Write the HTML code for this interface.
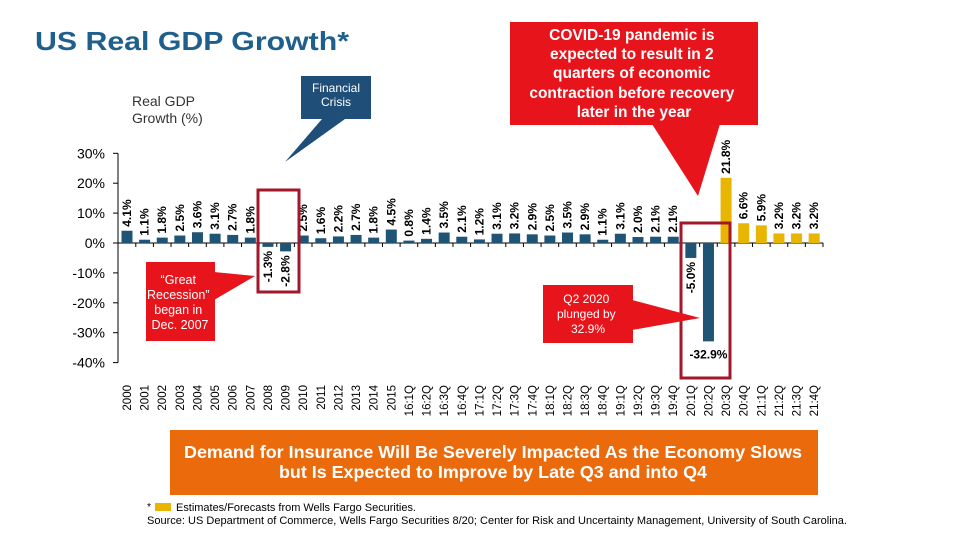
<!DOCTYPE html>
<html><head><meta charset="utf-8"><style>
body{margin:0;background:#fff;}
svg{display:block;font-family:"Liberation Sans",Arial,sans-serif;}
</style></head><body>
<svg id="chart" width="960" height="540" viewBox="0 0 960 540">
<text x="35" y="50" font-size="26" font-weight="bold" fill="#1f5f8b" textLength="314" lengthAdjust="spacingAndGlyphs">US Real GDP Growth*</text>
<text x="132" y="106" font-size="14" fill="#333">Real GDP</text>
<text x="132" y="123" font-size="14" fill="#333">Growth (%)</text>
<g id="axes"></g>
<g id="bars"></g>
<rect x="258" y="190" width="41" height="102" fill="none" stroke="#a3172b" stroke-width="3"/>
<rect x="681" y="223" width="49" height="155" fill="none" stroke="#a3172b" stroke-width="3"/>
<g>
<polygon points="322,119 345,119 285,162" fill="#1f4e79"/>
<rect x="301" y="76" width="70" height="43" fill="#1f4e79"/>
<text x="336" y="92" font-size="12" fill="#fff" text-anchor="middle">Financial</text>
<text x="336" y="106" font-size="12" fill="#fff" text-anchor="middle">Crisis</text>
</g>
<g>
<polygon points="652,124 720,124 698,196" fill="#e8141b"/>
<rect x="510" y="22" width="248" height="103" fill="#e8141b"/>
<text font-size="15.5" font-weight="bold" fill="#fff" text-anchor="middle">
<tspan x="634" y="40">COVID-19 pandemic is</tspan>
<tspan x="634" y="59">expected to result in 2</tspan>
<tspan x="634" y="78">quarters of economic</tspan>
<tspan x="634" y="98">contraction before recovery</tspan>
<tspan x="634" y="117">later in the year</tspan></text>
</g>
<g>
<polygon points="214,272 214,300 255,276" fill="#e8141b"/>
<rect x="146" y="262" width="69" height="79" fill="#e8141b"/>
<text font-size="12.5" fill="#fff" text-anchor="middle">
<tspan x="180" y="284">“Great</tspan>
<tspan x="180" y="299">Recession”</tspan>
<tspan x="180" y="314">began in</tspan>
<tspan x="180" y="329">Dec. 2007</tspan></text>
</g>
<g>
<polygon points="632,300 632,330 700,318" fill="#e8141b"/>
<rect x="543" y="285" width="90" height="58" fill="#e8141b"/>
<text font-size="12" fill="#fff" text-anchor="middle">
<tspan x="588" y="303">Q2 2020</tspan>
<tspan x="588" y="318">plunged by</tspan>
<tspan x="588" y="333">32.9%</tspan></text>
</g>
<g>
<rect x="170" y="430" width="648" height="65" fill="#ea6a0c"/>
<text x="493" y="458" font-size="17.5" font-weight="bold" fill="#fff" text-anchor="middle" textLength="618" lengthAdjust="spacingAndGlyphs">Demand for Insurance Will Be Severely Impacted As the Economy Slows</text>
<text x="493" y="478" font-size="17.5" font-weight="bold" fill="#fff" text-anchor="middle" textLength="428" lengthAdjust="spacingAndGlyphs">but Is Expected to Improve by Late Q3 and into Q4</text>
</g>
<text x="147" y="510" font-size="10.5" fill="#000">*</text>
<rect x="155" y="503" width="16" height="8" fill="#e8b600"/>
<text x="176" y="511" font-size="11" fill="#000" textLength="240" lengthAdjust="spacingAndGlyphs">Estimates/Forecasts from Wells Fargo Securities.</text>
<text x="147" y="524" font-size="11" fill="#000" textLength="700" lengthAdjust="spacingAndGlyphs">Source: US Department of Commerce, Wells Fargo Securities 8/20; Center for Risk and Uncertainty Management, University of South Carolina.</text>
</svg>
<script>
const categories = ["2000","2001","2002","2003","2004","2005","2006","2007","2008","2009","2010","2011","2012","2013","2014","2015","16:1Q","16:2Q","16:3Q","16:4Q","17:1Q","17:2Q","17:3Q","17:4Q","18:1Q","18:2Q","18:3Q","18:4Q","19:1Q","19:2Q","19:3Q","19:4Q","20:1Q","20:2Q","20:3Q","20:4Q","21:1Q","21:2Q","21:3Q","21:4Q"];
const values = [4.1,1.1,1.8,2.5,3.6,3.1,2.7,1.8,-1.3,-2.8,2.5,1.6,2.2,2.7,1.8,4.5,0.8,1.4,3.5,2.1,1.2,3.1,3.2,2.9,2.5,3.5,2.9,1.1,3.1,2.0,2.1,2.1,-5.0,-32.9,21.8,6.6,5.9,3.2,3.2,3.2];
const forecastStart = 34;
const yTicks = [30,20,10,0,-10,-20,-30,-40];
const NS = "http://www.w3.org/2000/svg";
const y = v => 243 - v * 2.99;
const x = i => 127 + i * 17.62;
function mk(tag, attrs, parent){const e=document.createElementNS(NS,tag);for(const k in attrs)e.setAttribute(k,attrs[k]);parent.appendChild(e);return e;}
const axes=document.getElementById('axes'), bars=document.getElementById('bars');
const yl=mk('line',{x1:118,x2:118,y1:y(30),y2:y(-40),stroke:'#000','stroke-width':1},axes);


yTicks.forEach(t=>{
  const tk=mk('line',{x1:113,x2:118,y1:y(t),y2:y(t),stroke:'#000'},axes);
  
  
  const tx=mk('text',{x:105,y:y(t)+5,'font-size':14,'text-anchor':'end',fill:'#000'},axes);
  tx.textContent=t+'%';
  
  
});
const xl=mk('line',{x1:118,x2:x(categories.length-1)+9,y1:y(0),y2:y(0),stroke:'#000'},axes);


categories.forEach((c,i)=>{
  const v=values[i], cx=x(i);
  const tk=mk('line',{x1:cx+8.8,x2:cx+8.8,y1:y(0),y2:y(0)+4,stroke:'#000'},axes);
  
  
  const b=mk('rect',{x:cx-5.5,width:11,y:Math.min(y(v),y(0)),height:Math.abs(y(v)-y(0)),fill:i>=forecastStart?'#e8b600':'#1f5475'},bars);
  
  
  const lab=v.toFixed(1)+'%';
  let t;
  if(v===-32.9){
    t=mk('text',{x:cx,y:y(v)+17,'font-size':12,'font-weight':'bold','text-anchor':'middle',fill:'#000'},bars);
  } else if(v>=0){
    t=mk('text',{x:0,y:0,'font-size':12,'font-weight':'bold','text-anchor':'start',fill:'#000',transform:`translate(${cx+4},${y(v)-4}) rotate(-90)`},bars);
  } else {
    t=mk('text',{x:0,y:0,'font-size':12,'font-weight':'bold','text-anchor':'end',fill:'#000',transform:`translate(${cx+4},${y(v)+4}) rotate(-90)`},bars);
  }
  t.textContent=lab;
  
  
  const cl=mk('text',{x:0,y:0,'font-size':11.5,'text-anchor':'end',fill:'#000',transform:`translate(${cx+4},385) rotate(-90)`},axes);
  cl.textContent=c;
  
  
});
</script>
</body></html>
